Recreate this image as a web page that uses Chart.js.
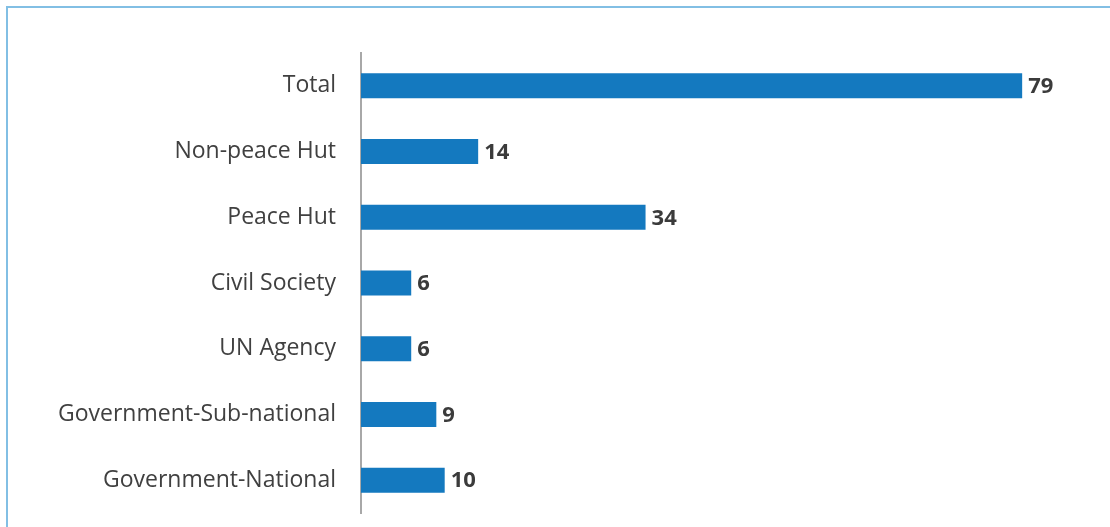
<!DOCTYPE html>
<html>
<head>
<meta charset="utf-8">
<script src="https://cdn.jsdelivr.net/npm/chart.js@4/dist/chart.umd.min.js"></script>
<style>
    html, body { margin: 0; padding: 0; background: #ffffff; overflow: hidden; }
    .frame {
        position: absolute;
        left: 6px; top: 6px;
        width: 1120px; height: 540px;
        border: 2px solid #82bfe4;
    }
    .wrap { position: absolute; left: 0; top: 0; width: 1110px; height: 527px; }
</style>
</head>
<body>
<div class="frame"></div>
<div class="wrap"><canvas id="barChart" width="1110" height="527"></canvas></div>

<script>
/* =========================
   DATA
========================= */

const categories = [
    "Total",
    "Non-peace Hut",
    "Peace Hut",
    "Civil Society",
    "UN Agency",
    "Government-Sub-national",
    "Government-National"
];

const counts = [79, 14, 34, 6, 6, 9, 10];


/* =========================
   VALUE LABELS PLUGIN
========================= */

const valueLabels = {
    id: "valueLabels",
    afterDatasetsDraw(chart) {
        const { ctx } = chart;
        const meta = chart.getDatasetMeta(0);
        ctx.save();
        ctx.font = "bold 22px 'Open Sans'";
        ctx.fillStyle = "#3b3b3b";
        ctx.textAlign = "left";
        ctx.textBaseline = "middle";
        meta.data.forEach((bar, i) => {
            ctx.fillText(String(counts[i]), bar.x + 6, bar.y + 1);
        });
        ctx.restore();
    }
};


/* =========================
   CHART
========================= */

document.addEventListener("DOMContentLoaded", () => {
    const ctx = document.getElementById("barChart");

    new Chart(ctx, {
        type: "bar",
        data: {
            labels: categories,
            datasets: [{
                data: counts,
                backgroundColor: "#1479bf",
                barPercentage: 0.76,
                categoryPercentage: 0.5
            }]
        },
        options: {
            indexAxis: "y",
            responsive: false,
            animation: false,
            layout: {
                padding: { top: 53, bottom: 14, left: 0, right: 10 }
            },
            plugins: {
                legend: { display: false },
                tooltip: { enabled: false }
            },
            scales: {
                x: {
                    display: false,
                    min: 0,
                    max: 88.3
                },
                y: {
                    afterFit(scale) {
                        scale.width = 361;
                        scale.paddingTop = 0;
                        scale.paddingBottom = 0;
                    },
                    grid: { display: false, drawTicks: false },
                    border: { display: true, color: "#a8a8a8", width: 2 },
                    ticks: {
                        color: "#404040",
                        padding: 25,
                        font: { family: "'Open Sans'", size: 23 }
                    }
                }
            }
        },
        plugins: [valueLabels]
    });
});
</script>
</body>
</html>
